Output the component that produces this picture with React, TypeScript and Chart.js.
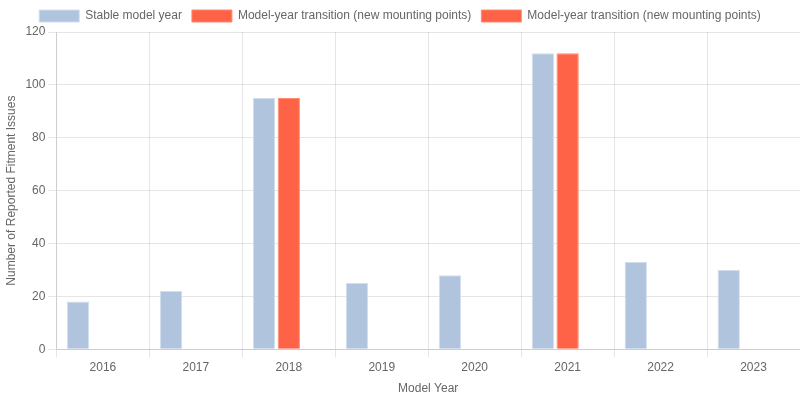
import { useEffect, useRef } from 'react'
import { Chart, registerables } from 'chart.js'

Chart.register(...registerables)

const years = ['2016', '2017', '2018', '2019', '2020', '2021', '2022', '2023']
const stableIssues = [18, 22, 95, 25, 28, 112, 33, 30]
const transitionIssues = [null, null, 95, null, null, 112, null, null]
const transitionExtra: (number | null)[] = [null, null, null, null, null, null, null, null]

export default function App() {
  const chartRef = useRef<HTMLCanvasElement>(null)
  const chartInstanceRef = useRef<Chart | null>(null)

  useEffect(() => {
    document.body.style.margin = '0'
    if (!chartRef.current) return
    const ctx = chartRef.current.getContext('2d')
    if (!ctx) return

    if (chartInstanceRef.current) {
      chartInstanceRef.current.destroy()
    }

    chartInstanceRef.current = new Chart(ctx, {
      type: 'bar',
      data: {
        labels: years,
        datasets: [
          {
            label: 'Stable model year',
            data: stableIssues,
            backgroundColor: '#B0C4DE',
            borderColor: 'rgba(210, 222, 238, 1)',
            borderWidth: 1,
          },
          {
            label: 'Model-year transition (new mounting points)',
            data: transitionIssues,
            backgroundColor: '#FF6347',
            borderColor: 'rgba(255, 140, 110, 1)',
            borderWidth: 1,
          },
          {
            label: 'Model-year transition (new mounting points)',
            data: transitionExtra,
            backgroundColor: '#FF6347',
            borderColor: 'rgba(255, 140, 110, 1)',
            borderWidth: 1,
          },
        ],
      },
      options: {
        responsive: true,
        maintainAspectRatio: false,
        animation: false,
        plugins: {
          legend: { display: true, position: 'top' },
        },
        scales: {
          x: {
            title: { display: true, text: 'Model Year' },
          },
          y: {
            beginAtZero: true,
            max: 120,
            ticks: { stepSize: 20 },
            title: { display: true, text: 'Number of Reported Fitment Issues' },
          },
        },
      },
    })

    return () => {
      chartInstanceRef.current?.destroy()
      chartInstanceRef.current = null
    }
  }, [])

  return (
    <div style={{ position: 'relative', width: 800, height: 400 }}>
      <canvas ref={chartRef}></canvas>
    </div>
  )
}
